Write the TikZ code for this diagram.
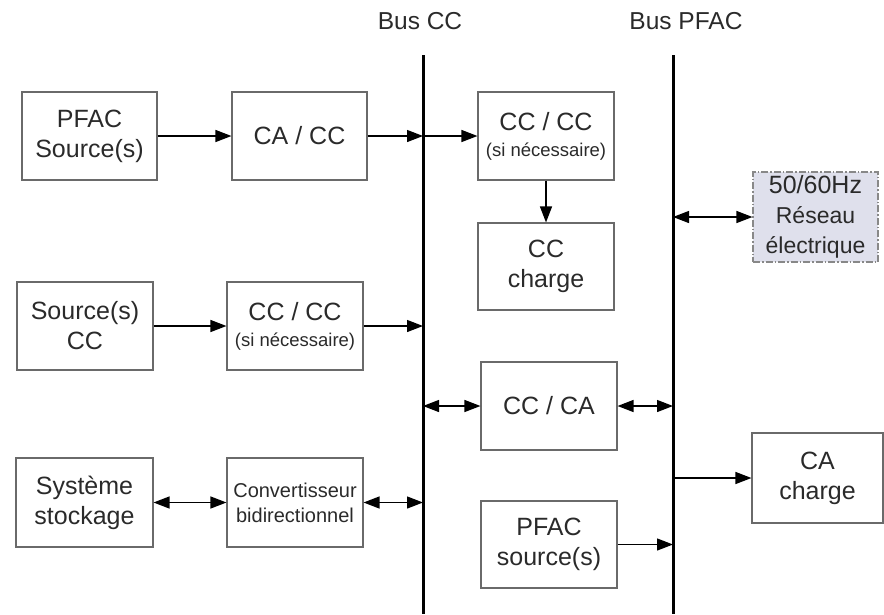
\documentclass[tikz,border=0pt]{standalone}
\usepackage{fontspec}
\setmainfont{Liberation Sans}
\usetikzlibrary{arrows.meta}
\definecolor{txt}{HTML}{2A2A2A}
\definecolor{bord}{HTML}{6A6A6A}
\definecolor{gridfill}{HTML}{DFE0EC}
\tikzset{
  blk/.style={draw=bord, line width=1.1pt, minimum width=136pt, minimum height=88pt, inner sep=0pt, align=center, text=txt, font=\fontsize{25}{30}\selectfont},
  arr/.style={line width=1.3pt, -{Triangle[length=16pt,width=12pt]}},
  darr/.style={line width=1.3pt, {Triangle[length=16pt,width=12pt]}-{Triangle[length=16pt,width=12pt]}},
  bus/.style={line width=3pt},
  lbl/.style={text=txt, font=\fontsize{24.5}{28}\selectfont}
}
\newcommand{\sinec}{{\fontsize{18.5}{20}\selectfont (si nécessaire)}}
\begin{document}
\begin{tikzpicture}[x=1pt,y=-1pt]
\useasboundingbox (0,0) rectangle (884,614);
% buses
\coordinate (bcc) at (423,0);
\coordinate (bpf) at (673,0);
\coordinate (bccT) at (423,55);
\coordinate (bccB) at (423,614);
\coordinate (bpfT) at (673,55);
\coordinate (bpfB) at (673,614);
\draw[bus] (bccT) -- (bccB);
\draw[bus] (bpfT) -- (bpfB);
\node[lbl] (lcc) at (420,21) {Bus CC};
\node[lbl] (lpf) at (686,21) {Bus PFAC};
% blocks
\node[blk, minimum width=135pt] (src1) at (89.5,136) {PFAC\\Source(s)};
\node[blk, minimum width=135pt] (cacc) at (299.5,136) {CA / CC};
\node[blk] (cccc1) at (546,136) {CC / CC\\[-4pt]\sinec};
\node[blk, minimum height=87pt] (ccch) at (546,266.5) {CC\\charge};
\node[blk, draw=bord!80, fill=gridfill, dash pattern=on 7pt off 2pt on 1.5pt off 2pt, minimum width=125pt, minimum height=90pt] (grid) at (815.5,217) {50/60Hz\\{\fontsize{23}{27}\selectfont Réseau}\\{\fontsize{23}{27}\selectfont électrique}};
\node[blk] (src2) at (85,326) {Source(s)\\CC};
\node[blk] (cccc2) at (295,326) {CC / CC\\[-4pt]\sinec};
\node[blk, minimum width=137pt, minimum height=89pt] (stor) at (84.5,502.5) {Système\\stockage};
\node[blk, minimum height=89pt, font=\fontsize{20}{25}\selectfont] (conv) at (295,502.5) {Convertisseur\\bidirectionnel};
\node[blk] (ccca) at (549,406) {CC / CA};
\node[blk, minimum width=131pt, minimum height=90pt] (cach) at (817.5,478) {CA\\charge};
\node[blk, minimum height=87pt] (pfac2) at (549,544.5) {PFAC\\source(s)};
% connectors
\draw[arr] (src1.east) -- (cacc.west);
\draw[arr] (cacc.east) -- (cacc.east -| bcc);
\draw[arr] (cacc.east -| bcc) -- (cccc1.west);
\draw[arr] (cccc1.south) -- (ccch.north);
\draw[darr] (grid.west -| bpf) -- (grid.west);
\draw[arr] (src2.east) -- (cccc2.west);
\draw[arr] (cccc2.east) -- (cccc2.east -| bcc);
\draw[darr] (stor.east) -- (conv.west);
\draw[darr] (conv.east) -- (conv.east -| bcc);
\draw[darr] (ccca.west -| bcc) -- (ccca.west);
\draw[darr] (ccca.east) -- (ccca.east -| bpf);
\draw[arr] (cach.west -| bpf) -- (cach.west);
\draw[arr] (pfac2.east) -- (pfac2.east -| bpf);
\end{tikzpicture}
\end{document}
